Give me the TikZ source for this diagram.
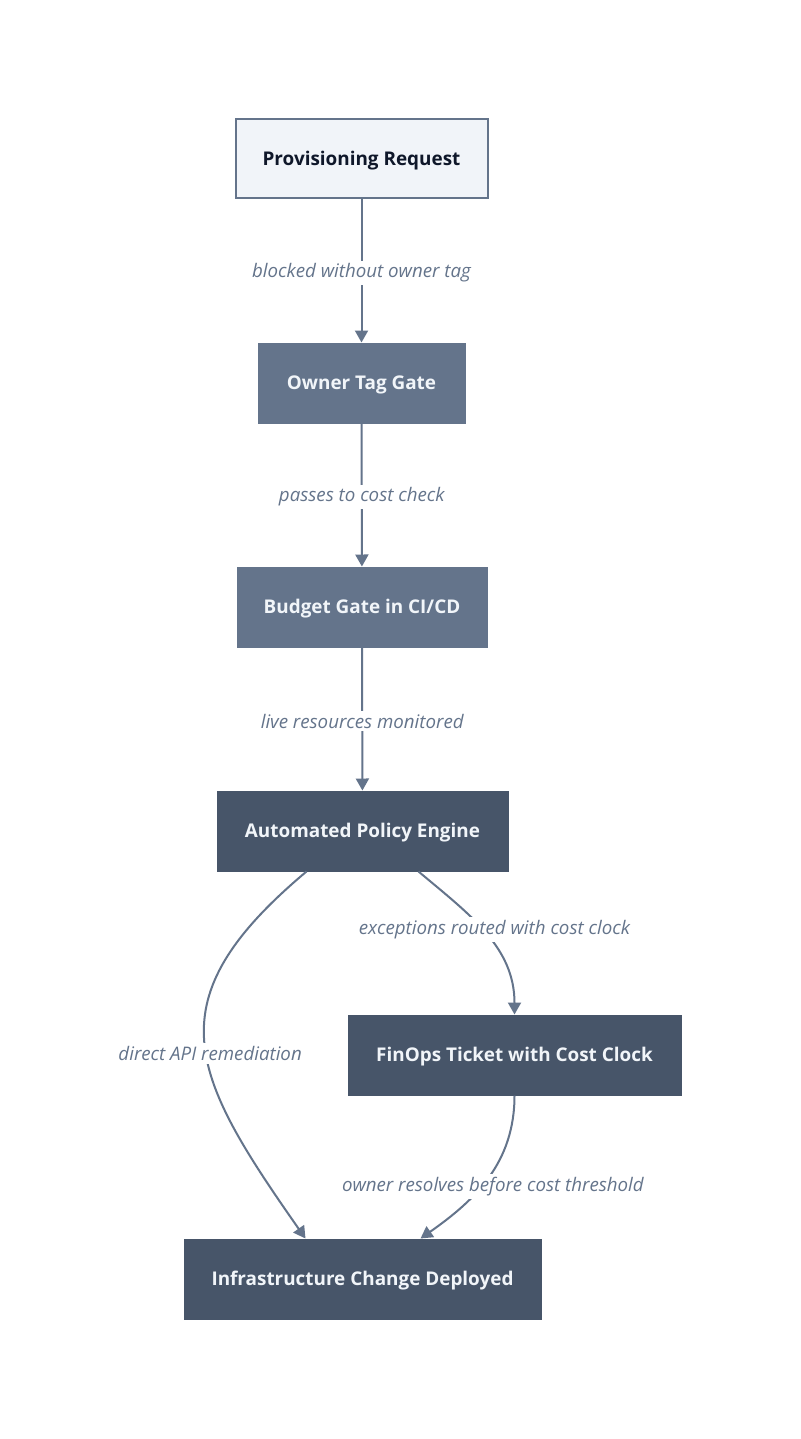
\documentclass[tikz,border=0pt]{standalone}
\usepackage{fontspec}
\setmainfont{Open Sans}
\definecolor{slLight}{HTML}{F1F4F9}
\definecolor{slMid}{HTML}{64748B}
\definecolor{slDark}{HTML}{475569}
\definecolor{slInk}{HTML}{0F172A}
\definecolor{slPale}{HTML}{F1F5F9}
\usepackage{tikz}
\usetikzlibrary{arrows.meta, positioning}
\tikzset{
  stage/.style={rectangle, draw=#1, line width=1pt, fill=#1, text=slPale, inner sep=0pt, minimum height=80pt, text height=13.5pt, text depth=0pt, align=center, font=\fontsize{18.9}{22}\selectfont\bfseries},
  stage/.default=slMid,
  startbox/.style={rectangle, draw=slMid, line width=2pt, fill=slLight, text=slInk, inner sep=0pt, minimum height=79pt, text height=13.5pt, text depth=0pt, align=center, font=\fontsize{18.9}{22}\selectfont\bfseries},
  flow/.style={-{Triangle[length=12pt, width=13pt]}, line width=2pt, slMid},
  flowlabel/.style={fill=white, text=slMid, inner sep=3pt, yshift=-2pt, font=\fontsize{18.7}{22}\selectfont\itshape},
}
\begin{document}
\begin{tikzpicture}[x=1pt, y=1pt]
  \fill[white] (0,0) rectangle (800,-1439);
  \useasboundingbox (0,0) rectangle (800,-1439);

  % straight pipeline
  \node[startbox, minimum width=252pt] (request) at (361.5,-159) {Provisioning Request};
  \node[stage=slMid, minimum width=207pt] (ownertag) at (361.5,-383) {Owner Tag Gate};
  \node[stage=slMid, minimum width=250pt] (budget) at (362,-607) {Budget Gate in CI/CD};
  \node[stage=slDark, minimum width=291pt] (policy) at (362.5,-831) {Automated Policy Engine};

  % exception branch and end state
  \node[stage=slDark, minimum width=333pt] (ticket) at (514.5,-1055) {FinOps Ticket with Cost Clock};
  \node[stage=slDark, minimum width=357pt] (infra) at (362.5,-1279) {Infrastructure Change Deployed};

  \draw[flow] (request) -- node[flowlabel] {blocked without owner tag} (ownertag);
  \draw[flow] (ownertag) -- node[flowlabel] {passes to cost check} (budget);
  \draw[flow] (budget) -- node[flowlabel] {live resources monitored} (policy);

  \draw[flow] ([xshift=-56pt]policy.south) to[out=-140, in=125, looseness=1.4]
    node[flowlabel, pos=0.53, xshift=4pt] {direct API remediation} ([xshift=-57pt]infra.north);
  \draw[flow] ([xshift=56pt]policy.south) to[out=-40, in=90]
    node[flowlabel, pos=0.45, xshift=14pt] {exceptions routed with cost clock} (ticket.north);
  \draw[flow] (ticket.south) to[out=-90, in=35]
    node[flowlabel, pos=0.55, xshift=10pt] {owner resolves before cost threshold} ([xshift=58pt]infra.north);
\end{tikzpicture}
\end{document}
